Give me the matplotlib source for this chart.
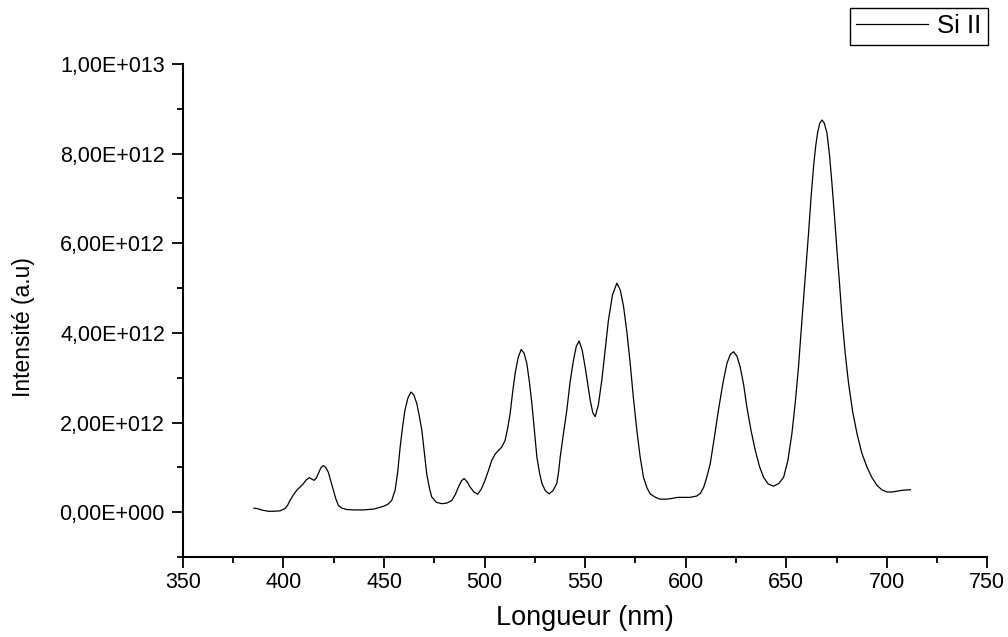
import numpy as np
import matplotlib
matplotlib.use("Agg")
import matplotlib.pyplot as plt
from matplotlib.ticker import MultipleLocator, FuncFormatter

plt.rcParams['font.family'] = ['Liberation Sans', 'DejaVu Sans']

# spectre Si II, intensité en unités de 1e12
longueur = [385.3, 387.0, 389.0, 392.4, 395.0, 398.3, 400.7, 402.0, 403.2, 405.0,
            406.6, 408.0, 409.6, 411.3, 412.8, 414.0, 415.2, 416.3, 417.3, 418.6,
            419.8, 421.0, 422.3, 423.5, 424.8, 426.0, 427.3, 429.0, 431.4, 435.0,
            439.7, 445.0, 449.7, 452.0, 453.8, 455.5, 456.8, 458.0, 459.2, 460.4,
            461.9, 463.4, 464.8, 466.3, 467.5, 468.8, 470.0, 471.2, 472.5, 473.7,
            476.0, 478.7, 481.0, 483.7, 485.5, 487.0, 488.5, 489.8, 491.3, 492.8,
            494.7, 496.6, 498.4, 500.2, 502.0, 503.6, 505.2, 506.9, 508.5, 510.2,
            511.5, 512.7, 514.0, 515.2, 516.7, 518.2, 519.6, 521.0, 522.3, 523.5,
            524.8, 526.0, 527.3, 528.5, 530.2, 532.1, 534.0, 535.9, 536.8, 537.6,
            539.2, 540.9, 542.5, 544.2, 545.6, 547.0, 548.5, 550.0, 551.3, 552.5,
            553.8, 555.0, 556.6, 558.3, 560.0, 561.6, 563.6, 565.8, 567.5, 569.1,
            570.8, 572.4, 574.0, 575.7, 577.3, 579.0, 580.7, 582.3, 585.0, 587.3,
            590.0, 592.3, 596.0, 599.0, 602.2, 605.5, 607.3, 608.9, 610.5, 612.2,
            614.2, 616.3, 618.4, 620.5, 622.2, 623.8, 625.5, 627.1, 628.8, 630.4,
            632.5, 634.6, 636.7, 638.7, 641.0, 643.7, 646.3, 648.7, 650.8, 652.8,
            654.5, 656.1, 657.3, 658.6, 659.9, 661.1, 662.3, 663.6, 664.6, 665.6,
            666.7, 667.8, 668.9, 670.2, 671.5, 672.7, 674.0, 675.2, 676.5, 677.7,
            679.3, 681.0, 683.0, 685.2, 687.5, 690.1, 692.5, 695.1, 697.5, 700.1,
            702.5, 705.1, 708.0, 711.7]
intensite = [0.09, 0.08, 0.05, 0.02, 0.02, 0.03, 0.08, 0.15, 0.26, 0.39,
             0.49, 0.55, 0.62, 0.72, 0.77, 0.74, 0.71, 0.76, 0.86, 0.99,
             1.04, 1.00, 0.89, 0.70, 0.49, 0.30, 0.15, 0.09, 0.06, 0.05,
             0.05, 0.07, 0.13, 0.18, 0.26, 0.49, 0.90, 1.45, 1.90, 2.28,
             2.55, 2.68, 2.62, 2.42, 2.15, 1.83, 1.35, 0.86, 0.55, 0.34,
             0.22, 0.19, 0.20, 0.26, 0.40, 0.56, 0.70, 0.75, 0.68, 0.56,
             0.45, 0.40, 0.52, 0.71, 0.94, 1.16, 1.29, 1.38, 1.45, 1.60,
             1.88, 2.20, 2.70, 3.10, 3.45, 3.63, 3.55, 3.32, 2.90, 2.43,
             1.80, 1.23, 0.88, 0.64, 0.48, 0.41, 0.48, 0.64, 0.90, 1.23,
             1.75, 2.28, 2.90, 3.39, 3.70, 3.82, 3.62, 3.24, 2.85, 2.50,
             2.22, 2.13, 2.40, 2.95, 3.65, 4.29, 4.85, 5.11, 4.95, 4.59,
             4.00, 3.32, 2.55, 1.83, 1.25, 0.78, 0.55, 0.41, 0.33, 0.29,
             0.29, 0.30, 0.33, 0.33, 0.33, 0.36, 0.42, 0.55, 0.78, 1.08,
             1.65, 2.28, 2.85, 3.32, 3.52, 3.58, 3.48, 3.24, 2.85, 2.35,
             1.82, 1.38, 1.02, 0.78, 0.63, 0.58, 0.64, 0.78, 1.15, 1.75,
             2.45, 3.24, 3.98, 4.74, 5.50, 6.23, 7.00, 7.72, 8.15, 8.47,
             8.68, 8.75, 8.68, 8.47, 7.98, 7.35, 6.60, 5.85, 5.10, 4.36,
             3.55, 2.87, 2.25, 1.75, 1.33, 1.01, 0.78, 0.60, 0.50, 0.45,
             0.45, 0.47, 0.49, 0.50]

x = np.array(longueur)
y = np.array(intensite) * 1e12


def fmt_origin(v, pos):
    if v == 0:
        return "0,00E+000"
    e = int(np.floor(np.log10(abs(v))))
    m = v / 10**e
    return f"{m:.2f}".replace('.', ',') + f"E+{e:03d}"


fig = plt.figure(figsize=(10.08, 6.37), dpi=100)
ax = fig.add_axes([0.1815, 0.1256, 0.798, 0.774])

ax.plot(x, y, color='black', linewidth=0.9, label='Si II')

ax.set_xlim(350, 750)
ax.set_ylim(-1e12, 1e13)
ax.xaxis.set_major_locator(MultipleLocator(50))
ax.xaxis.set_minor_locator(MultipleLocator(25))
ax.set_yticks([0, 2e12, 4e12, 6e12, 8e12, 1e13])
ax.set_yticks([-1e12, 1e12, 3e12, 5e12, 7e12, 9e12], minor=True)
ax.yaxis.set_major_formatter(FuncFormatter(fmt_origin))

for s in ('top', 'right'):
    ax.spines[s].set_visible(False)
for s in ('left', 'bottom'):
    ax.spines[s].set_linewidth(1.5)

ax.tick_params(which='major', direction='out', length=8, width=1.3, labelsize=15.5)
ax.tick_params(which='minor', direction='out', length=4.5, width=1.3)
ax.tick_params(axis='y', which='major', pad=5)
ax.tick_params(axis='x', which='major', pad=3)

ax.set_xlabel("Longueur (nm)", fontsize=19.5)
ax.set_ylabel("Intensité (a.u)", fontsize=16.5)
ax.xaxis.set_label_coords(0.5, -0.097)
ax.yaxis.set_label_coords(-0.184, 0.467)

leg = ax.legend(loc='upper right', bbox_to_anchor=(988/1008, 1 - 8/637),
                bbox_transform=fig.transFigure, borderaxespad=0,
                fancybox=False, edgecolor='black', fontsize=18.5,
                handlelength=2.8, borderpad=0.25, handletextpad=0.35)
leg.get_frame().set_linewidth(1.0)
leg.get_frame().set_alpha(1)

fig.savefig("out.png", dpi=100)
